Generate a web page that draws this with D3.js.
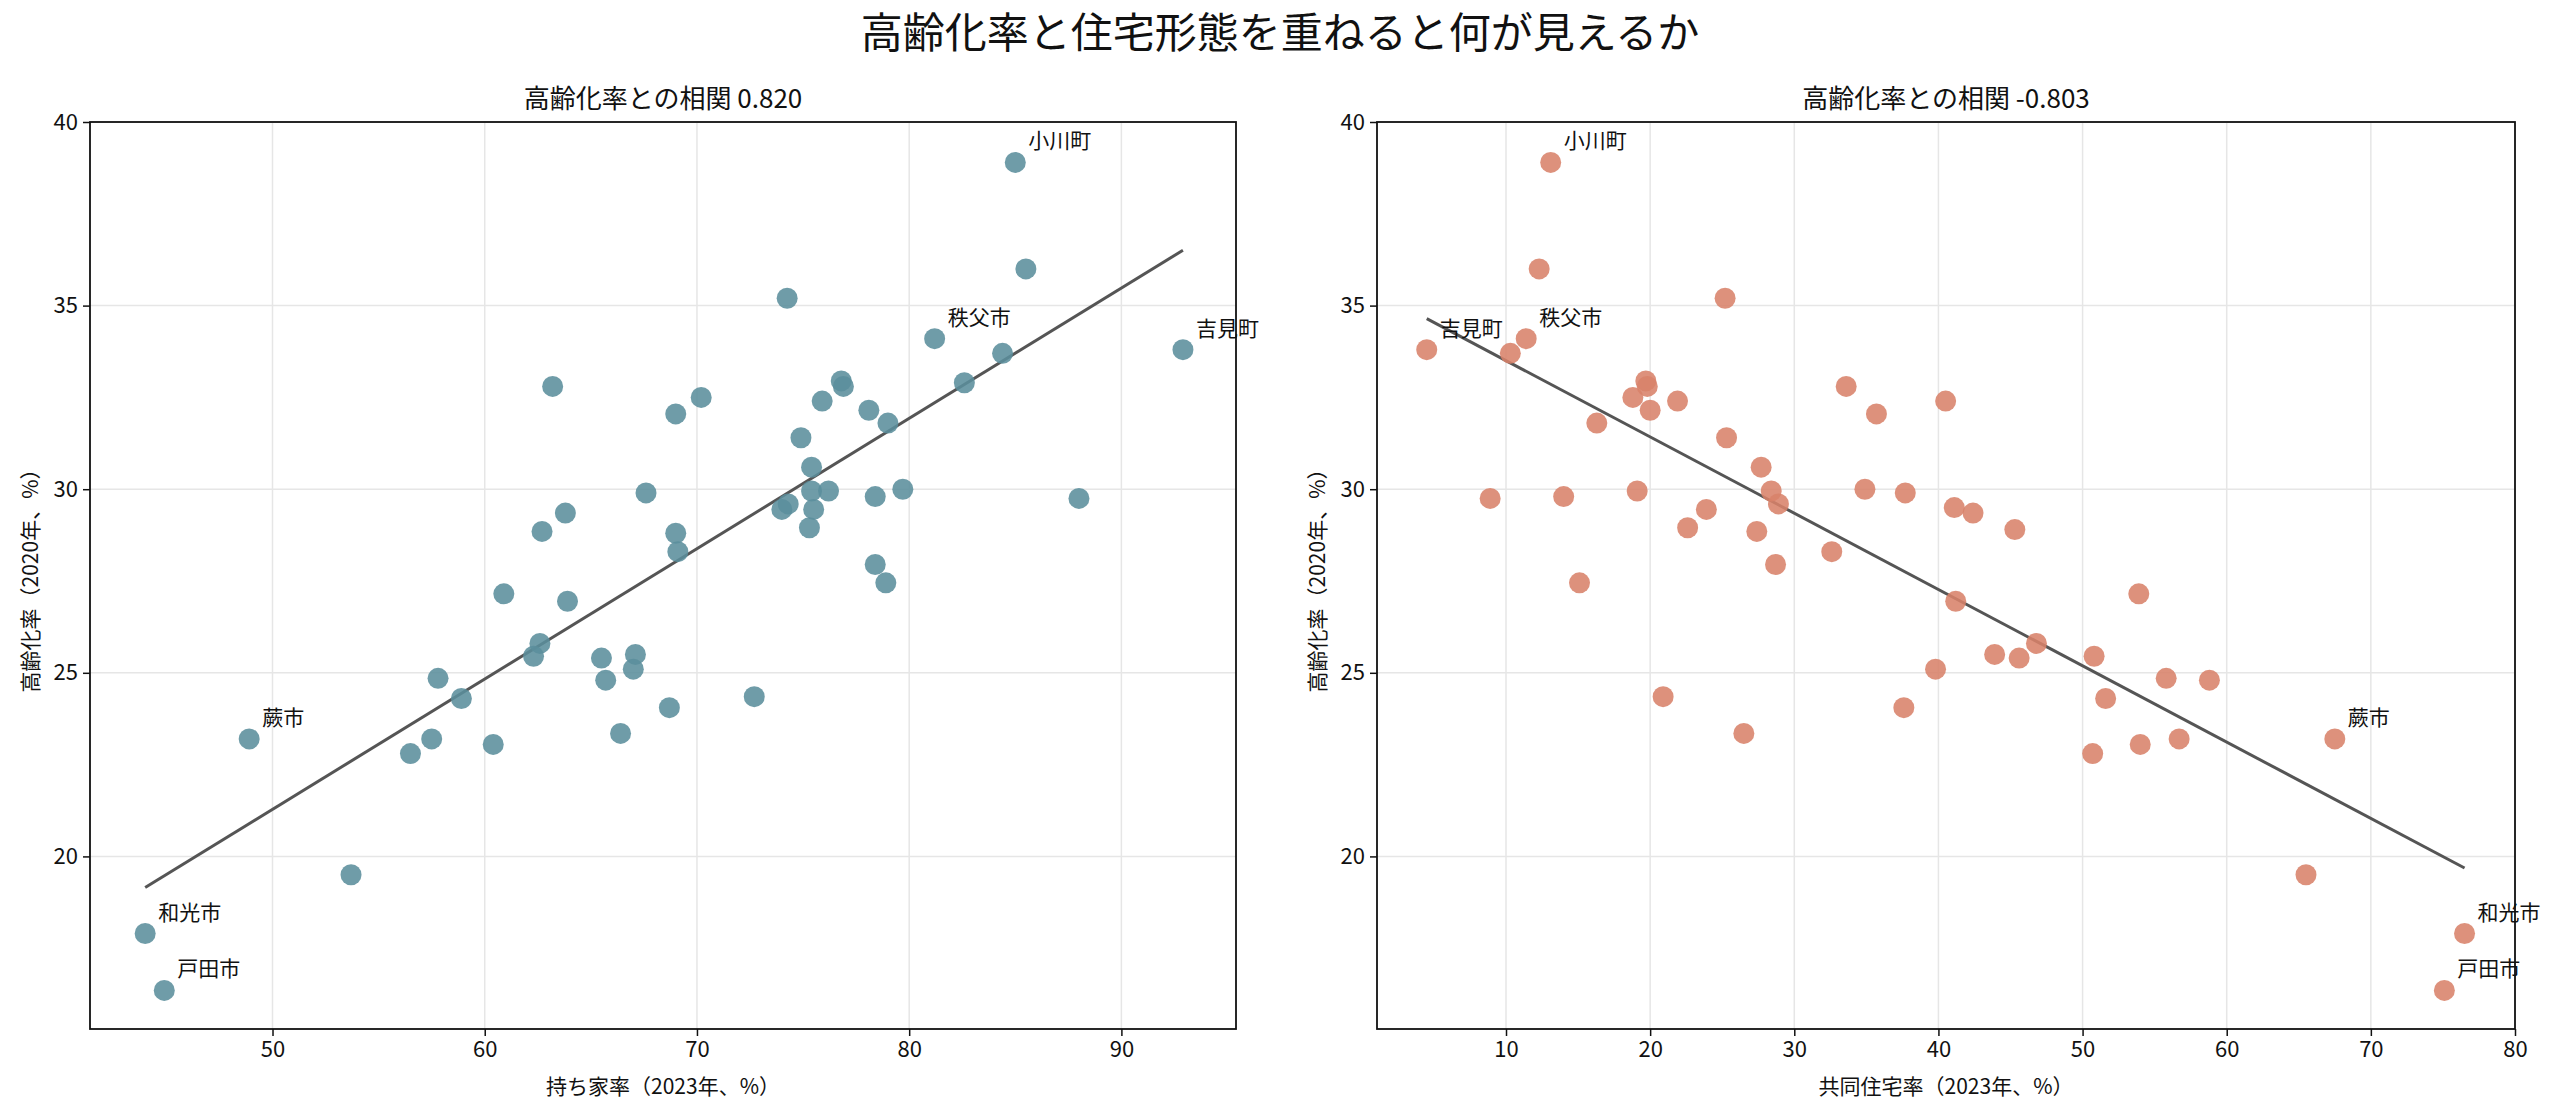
<!DOCTYPE html>
<html><head><meta charset="utf-8">
<script src="https://cdn.jsdelivr.net/npm/d3@7"></script>
<style>
body{margin:0;background:#fff;}
text{font-family:"Noto Sans CJK JP","Noto Sans",sans-serif;fill:#111;}
</style></head>
<body><svg id="chart" width="2560" height="1115"></svg>
<script>
// 各市町村: 持ち家率, 共同住宅率, 高齢化率
const names = ["小川町","","","秩父市","","吉見町","","","","","","","","","","","","","","","","","","","","","","","","","","","","","","","","","","","","","","","","","蕨市","","","","","和光市","戸田市"];
const ownRate = [85.0,85.5,74.25,81.2,84.4,92.9,63.2,76.8,76.9,70.2,69.0,82.6,75.9,78.1,79.0,74.9,75.4,75.4,76.2,67.6,79.7,78.4,88.0,63.8,74.0,74.3,75.5,62.7,75.3,69.0,69.1,78.4,78.9,60.9,63.9,62.6,62.3,65.5,67.1,67.0,65.7,57.8,58.9,72.7,68.7,66.4,48.9,57.5,60.4,56.5,53.7,44.0,44.9];
const ownAging = [38.9,36.0,35.2,34.1,33.7,33.8,32.8,32.95,32.8,32.5,32.05,32.9,32.4,32.15,31.8,31.4,30.6,29.95,29.95,29.9,30.0,29.8,29.75,29.35,29.45,29.6,29.45,28.85,28.95,28.8,28.3,27.95,27.45,27.15,26.95,25.8,25.45,25.4,25.5,25.1,24.8,24.85,24.3,24.35,24.05,23.35,23.2,23.2,23.05,22.8,19.5,17.9,16.35];
const aptNames = ["小川町","","","秩父市","","吉見町","","","","","","","","","","","","","","","","","","","","","","","","","","","","","","","","","","","","","","","","","蕨市","","","","","和光市","戸田市"];
const aptRate = [13.1,12.3,25.2,11.4,10.3,4.5,33.6,19.7,19.8,18.8,35.7,40.5,21.9,20.0,16.3,25.3,27.7,19.1,28.4,37.7,34.9,14.0,8.9,42.4,23.9,41.1,28.9,22.6,27.4,45.3,32.6,28.7,15.1,53.9,41.2,46.8,43.9,45.6,50.8,39.8,55.8,58.8,51.6,20.9,37.6,26.5,67.5,56.7,54.0,50.7,65.5,76.5,75.1];
const aptAging = [38.9,36.0,35.2,34.1,33.7,33.8,32.8,32.95,32.8,32.5,32.05,32.4,32.4,32.15,31.8,31.4,30.6,29.95,29.95,29.9,30.0,29.8,29.75,29.35,29.45,29.5,29.6,28.95,28.85,28.9,28.3,27.95,27.45,27.15,26.95,25.8,25.5,25.4,25.45,25.1,24.85,24.8,24.3,24.35,24.05,23.35,23.2,23.2,23.05,22.8,19.5,17.9,16.35];
const yTicks = [20,25,30,35,40];

const svg = d3.select("#chart");
svg.append("text").attr("x",1280).attr("y",48).attr("text-anchor","middle")
  .style("font-size","42px").text("高齢化率と住宅形態を重ねると何が見えるか");

function corr(xs, ys) {
  const mx = d3.mean(xs), my = d3.mean(ys);
  let sxy = 0, sxx = 0, syy = 0;
  xs.forEach((x, i) => { sxy += (x-mx)*(ys[i]-my); sxx += (x-mx)**2; syy += (ys[i]-my)**2; });
  return {r: sxy/Math.sqrt(sxx*syy), b: sxy/sxx, a: my - sxy/sxx*mx};
}

function panel(left, right, xDomain, xTicks, xs, ys, labels, color, xLabel, rText) {
  const top = 122, bottom = 1029;
  const x = d3.scaleLinear().domain(xDomain).range([left, right]);
  const y = d3.scaleLinear().domain([15.3, 40]).range([bottom, top]);
  const g = svg.append("g");
  g.selectAll(".gx").data(xTicks).join("line").attr("x1", d=>x(d)).attr("x2", d=>x(d))
    .attr("y1", top).attr("y2", bottom).attr("stroke", "#e6e6e6").attr("stroke-width", 1.5);
  g.selectAll(".gy").data(yTicks).join("line").attr("y1", d=>y(d)).attr("y2", d=>y(d))
    .attr("x1", left).attr("x2", right).attr("stroke", "#e6e6e6").attr("stroke-width", 1.5);

  const fit = corr(xs, ys);
  const ex = d3.extent(xs);
  g.append("line").attr("x1", x(ex[0])).attr("x2", x(ex[1]))
    .attr("y1", y(fit.a+fit.b*ex[0])).attr("y2", y(fit.a+fit.b*ex[1]))
    .attr("stroke", "#555").attr("stroke-width", 3);

  g.selectAll(".dot").data(xs).join("circle").attr("cx", d=>x(d)).attr("cy", (d,i)=>y(ys[i]))
    .attr("r", 10.5).attr("fill", color).attr("fill-opacity", 0.88);
  g.selectAll(".lab").data(labels).join("text").attr("x", (d,i)=>x(xs[i])+13).attr("y", (d,i)=>y(ys[i])-14)
    .style("font-size", "21px").text(d=>d);

  const xa = g.append("g").attr("transform", `translate(0,${bottom})`)
    .call(d3.axisBottom(x).tickValues(xTicks).tickSize(7).tickPadding(5));
  const ya = g.append("g").attr("transform", `translate(${left},0)`)
    .call(d3.axisLeft(y).tickValues(yTicks).tickSize(7).tickPadding(5));
  [xa, ya].forEach(a => { a.selectAll("text").style("font-size", "22px").attr("fill", "#111");
    a.select(".domain").remove(); a.selectAll("line").attr("stroke", "#111").attr("stroke-width", 1.5); });
  g.append("rect").attr("x", left).attr("y", top).attr("width", right-left).attr("height", bottom-top)
    .attr("fill", "none").attr("stroke", "#111").attr("stroke-width", 1.8);

  g.append("text").attr("x", (left+right)/2).attr("y", top-14).attr("text-anchor", "middle")
    .style("font-size", "26px").text(rText + fit.r.toFixed(3));
  g.append("text").attr("x", (left+right)/2).attr("y", 1094).attr("text-anchor", "middle")
    .style("font-size", "21px").text(xLabel);
  g.append("text").attr("transform", `translate(${left-52},${(top+bottom)/2}) rotate(-90)`)
    .attr("text-anchor", "middle").style("font-size", "21px").text("高齢化率（2020年、%）");
}

panel(90, 1236, [41.4, 95.4], [50,60,70,80,90], ownRate, ownAging, names, "#5b8e9c",
  "持ち家率（2023年、%）", "高齢化率との相関 ");
panel(1377, 2515, [1.05, 80], [10,20,30,40,50,60,70,80], aptRate, aptAging, aptNames, "#d8826a",
  "共同住宅率（2023年、%）", "高齢化率との相関 ");
</script></body></html>
